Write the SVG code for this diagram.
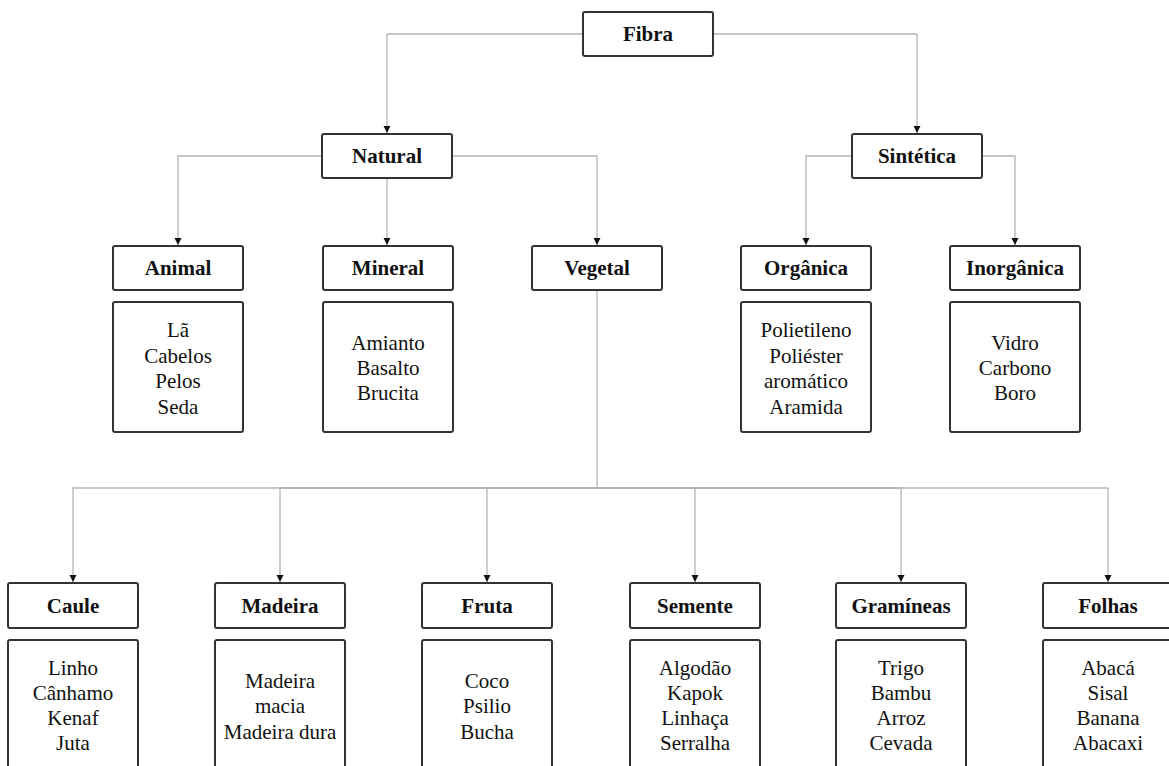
<svg xmlns="http://www.w3.org/2000/svg" width="1169" height="766" viewBox="0 0 1169 766">
<defs>
<style>
.box{fill:#fff;stroke:#333;stroke-width:2}
.hd{font-family:"Liberation Serif","Times New Roman",serif;font-weight:bold;font-size:21px;fill:#111;text-anchor:middle}
.ls{font-family:"Liberation Serif","Times New Roman",serif;font-size:21px;fill:#111;text-anchor:middle}
.cn{fill:none;stroke:#b4b4b4;stroke-width:1.3}
</style>
<marker id="ar" markerUnits="userSpaceOnUse" markerWidth="8" markerHeight="8" refX="7" refY="3.5" orient="auto">
<path d="M0,0 L7,3.5 L0,7 z" fill="#111"/>
</marker>
</defs>
<rect width="1169" height="766" fill="#fff"/>
<g id="connectors">
<path class="cn" d="M583,34 H387 V133" marker-end="url(#ar)"/>
<path class="cn" d="M713,34 H917 V133" marker-end="url(#ar)"/>
<path class="cn" d="M322,156 H178 V245" marker-end="url(#ar)"/>
<path class="cn" d="M387,178 V245" marker-end="url(#ar)"/>
<path class="cn" d="M452,156 H597 V245" marker-end="url(#ar)"/>
<path class="cn" d="M852,156 H806 V245" marker-end="url(#ar)"/>
<path class="cn" d="M982,156 H1015 V245" marker-end="url(#ar)"/>
<path class="cn" d="M597,290 V488 H73 V582" marker-end="url(#ar)"/>
<path class="cn" d="M597,488 H280 V582" marker-end="url(#ar)"/>
<path class="cn" d="M597,488 H487 V582" marker-end="url(#ar)"/>
<path class="cn" d="M597,488 H695 V582" marker-end="url(#ar)"/>
<path class="cn" d="M597,488 H901 V582" marker-end="url(#ar)"/>
<path class="cn" d="M597,488 H1108 V582" marker-end="url(#ar)"/>
</g>
<g id="fibra"><rect class="box" x="583" y="12" width="130" height="44" rx="2"/><text class="hd" x="648" y="41">Fibra</text></g>
<g id="natural"><rect class="box" x="322" y="134" width="130" height="44" rx="2"/><text class="hd" x="387" y="163">Natural</text></g>
<g id="sintetica"><rect class="box" x="852" y="134" width="130" height="44" rx="2"/><text class="hd" x="917" y="163">Sintética</text></g>

<g id="animal"><rect class="box" x="113" y="246" width="130" height="44" rx="2"/><text class="hd" x="178" y="275">Animal</text></g>
<g id="animal-list"><rect class="box" x="113" y="302" width="130" height="130" rx="2"/>
<text class="ls" x="178" y="337">Lã</text><text class="ls" x="178" y="363">Cabelos</text><text class="ls" x="178" y="388">Pelos</text><text class="ls" x="178" y="414">Seda</text></g>

<g id="mineral"><rect class="box" x="323" y="246" width="130" height="44" rx="2"/><text class="hd" x="388" y="275">Mineral</text></g>
<g id="mineral-list"><rect class="box" x="323" y="302" width="130" height="130" rx="2"/>
<text class="ls" x="388" y="350">Amianto</text><text class="ls" x="388" y="375">Basalto</text><text class="ls" x="388" y="400">Brucita</text></g>

<g id="vegetal"><rect class="box" x="532" y="246" width="130" height="44" rx="2"/><text class="hd" x="597" y="275">Vegetal</text></g>

<g id="organica"><rect class="box" x="741" y="246" width="130" height="44" rx="2"/><text class="hd" x="806" y="275">Orgânica</text></g>
<g id="organica-list"><rect class="box" x="741" y="302" width="130" height="130" rx="2"/>
<text class="ls" x="806" y="337">Polietileno</text><text class="ls" x="806" y="363">Poliéster</text><text class="ls" x="806" y="388">aromático</text><text class="ls" x="806" y="414">Aramida</text></g>

<g id="inorganica"><rect class="box" x="950" y="246" width="130" height="44" rx="2"/><text class="hd" x="1015" y="275">Inorgânica</text></g>
<g id="inorganica-list"><rect class="box" x="950" y="302" width="130" height="130" rx="2"/>
<text class="ls" x="1015" y="350">Vidro</text><text class="ls" x="1015" y="375">Carbono</text><text class="ls" x="1015" y="400">Boro</text></g>

<g id="caule"><rect class="box" x="8" y="583" width="130" height="45" rx="2"/><text class="hd" x="73" y="613">Caule</text></g>
<g id="caule-list"><rect class="box" x="8" y="640" width="130" height="140" rx="2"/>
<text class="ls" x="73" y="675">Linho</text><text class="ls" x="73" y="700">Cânhamo</text><text class="ls" x="73" y="725">Kenaf</text><text class="ls" x="73" y="750">Juta</text></g>

<g id="madeira"><rect class="box" x="215" y="583" width="130" height="45" rx="2"/><text class="hd" x="280" y="613">Madeira</text></g>
<g id="madeira-list"><rect class="box" x="215" y="640" width="130" height="140" rx="2"/>
<text class="ls" x="280" y="688">Madeira</text><text class="ls" x="280" y="713">macia</text><text class="ls" x="280" y="739">Madeira dura</text></g>

<g id="fruta"><rect class="box" x="422" y="583" width="130" height="45" rx="2"/><text class="hd" x="487" y="613">Fruta</text></g>
<g id="fruta-list"><rect class="box" x="422" y="640" width="130" height="140" rx="2"/>
<text class="ls" x="487" y="688">Coco</text><text class="ls" x="487" y="713">Psilio</text><text class="ls" x="487" y="739">Bucha</text></g>

<g id="semente"><rect class="box" x="630" y="583" width="130" height="45" rx="2"/><text class="hd" x="695" y="613">Semente</text></g>
<g id="semente-list"><rect class="box" x="630" y="640" width="130" height="140" rx="2"/>
<text class="ls" x="695" y="675">Algodão</text><text class="ls" x="695" y="700">Kapok</text><text class="ls" x="695" y="725">Linhaça</text><text class="ls" x="695" y="750">Serralha</text></g>

<g id="gramineas"><rect class="box" x="836" y="583" width="130" height="45" rx="2"/><text class="hd" x="901" y="613">Gramíneas</text></g>
<g id="gramineas-list"><rect class="box" x="836" y="640" width="130" height="140" rx="2"/>
<text class="ls" x="901" y="675">Trigo</text><text class="ls" x="901" y="700">Bambu</text><text class="ls" x="901" y="725">Arroz</text><text class="ls" x="901" y="750">Cevada</text></g>

<g id="folhas"><rect class="box" x="1043" y="583" width="130" height="45" rx="2"/><text class="hd" x="1108" y="613">Folhas</text></g>
<g id="folhas-list"><rect class="box" x="1043" y="640" width="130" height="140" rx="2"/>
<text class="ls" x="1108" y="675">Abacá</text><text class="ls" x="1108" y="700">Sisal</text><text class="ls" x="1108" y="725">Banana</text><text class="ls" x="1108" y="750">Abacaxi</text></g>
</svg>
